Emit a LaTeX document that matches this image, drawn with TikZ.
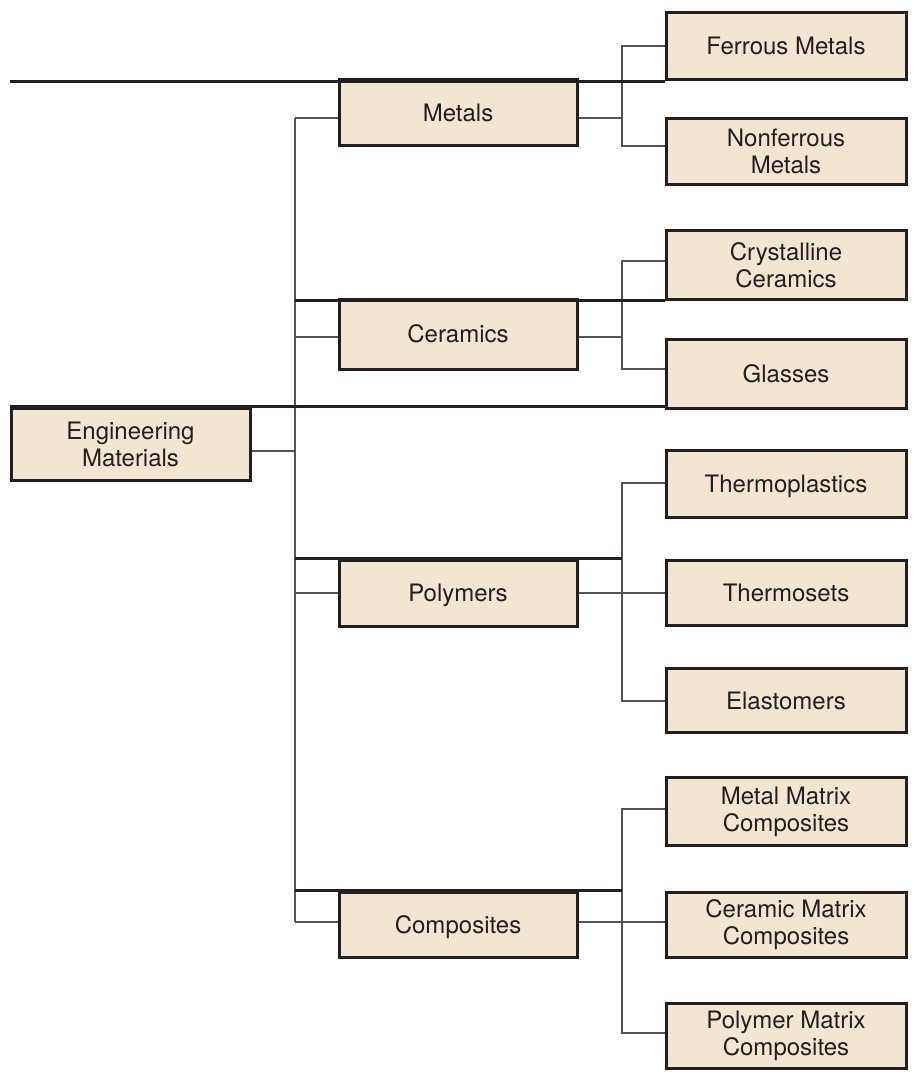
\documentclass[tikz,border=0pt]{standalone}
\usepackage{fontspec}
\setmainfont{TeX Gyre Heros}
\definecolor{boxfill}{HTML}{F2E5D1}
\definecolor{boxline}{HTML}{231F20}
\definecolor{connc}{HTML}{555555}
\begin{document}
\begin{tikzpicture}[x=1pt,y=-1pt,
  box/.style={draw=boxline, fill=boxfill, line width=3pt, inner sep=0pt, align=center,
    font=\fontsize{24}{27}\selectfont, text=boxline},
  one/.style={text height=17pt, text depth=0pt},
  wide/.style={minimum width=240pt},
  mid/.style={minimum width=238pt},
  conn/.style={draw=connc, line width=1.5pt},
  rule/.style={draw=boxline, line width=3pt}]
\useasboundingbox (0,0) rectangle (912,1083);

% boxes
\node[box,wide,one,minimum height=67pt] (ferrous) at (786,46.5) {Ferrous Metals};
\node[box,wide,minimum height=66pt] (nonferrous) at (786,151.5) {Nonferrous\\Metals};
\node[box,mid,one,minimum height=66pt] (metals) at (458,113) {Metals};
\node[box,wide,minimum height=68pt] (cryst) at (786,265) {Crystalline\\Ceramics};
\node[box,wide,one,minimum height=69pt] (glass) at (786,373.5) {Glasses};
\node[box,mid,one,minimum height=70pt] (ceram) at (458,334) {Ceramics};
\node[box,minimum width=239pt,minimum height=72pt] (eng) at (130.5,444) {Engineering\\Materials};
\node[box,wide,one,minimum height=67pt] (tplast) at (786,484) {Thermoplastics};
\node[box,wide,one,minimum height=65pt] (tset) at (786,593) {Thermosets};
\node[box,wide,one,minimum height=64pt] (elast) at (786,700.5) {Elastomers};
\node[box,mid,one,minimum height=66pt] (poly) at (458,593) {Polymers};
\node[box,wide,minimum height=68pt] (mmc) at (786,811.5) {Metal Matrix\\Composites};
\node[box,wide,minimum height=65pt] (cmc) at (786,924.5) {Ceramic Matrix\\Composites};
\node[box,wide,minimum height=65pt] (pmc) at (786,1036) {Polymer Matrix\\Composites};
\node[box,mid,one,minimum height=65pt] (comp) at (458,924.5) {Composites};

% junction coordinates
\coordinate (ttop) at (295,118);
\coordinate (tk) at (295,451);
\coordinate (tc) at (295,337);
\coordinate (tp) at (295,593);
\coordinate (tbot) at (295,922);
\coordinate (bm) at (622,118);
\coordinate (bm1) at (622,46);
\coordinate (bm2) at (622,146);
\coordinate (bc) at (622,337);
\coordinate (bc1) at (622,261);
\coordinate (bc2) at (622,369);
\coordinate (bp) at (622,593);
\coordinate (bp1) at (622,483);
\coordinate (bp3) at (622,701);
\coordinate (bk) at (622,922);
\coordinate (bk1) at (622,809);
\coordinate (bk3) at (622,1033);

% trunk
\draw[conn] (ttop) -- (tbot);
\draw[conn] (eng.east |- tk) -- (tk);
\draw[conn] (ttop) -- (metals.west |- ttop);
\draw[conn] (tc) -- (ceram.west |- tc);
\draw[conn] (tp) -- (poly.west |- tp);
\draw[conn] (tbot) -- (comp.west |- tbot);

% metals group
\draw[conn] (metals.east |- bm) -- (bm);
\draw[conn] (ferrous.west |- bm1) -- (bm1) -- (bm2) -- (nonferrous.west |- bm2);
% ceramics group
\draw[conn] (ceram.east |- bc) -- (bc);
\draw[conn] (cryst.west |- bc1) -- (bc1) -- (bc2) -- (glass.west |- bc2);
% polymers group
\draw[conn] (poly.east |- bp) -- (tset.west |- bp);
\draw[conn] (tplast.west |- bp1) -- (bp1) -- (bp3) -- (elast.west |- bp3);
% composites group
\draw[conn] (comp.east |- bk) -- (cmc.west |- bk);
\draw[conn] (mmc.west |- bk1) -- (bk1) -- (bk3) -- (pmc.west |- bk3);

% heavy horizontal rules
\draw[rule] (eng.west |- ferrous.south) -- (ferrous.south west);
\draw[rule] (ttop |- cryst.south) -- (cryst.south west);
\draw[rule] (eng.north west) -- (glass.west |- eng.north);
\draw[rule] (ttop |- poly.north) -- (bp |- poly.north);
\draw[rule] (ttop |- comp.north) -- (bk |- comp.north);
\end{tikzpicture}
\end{document}
